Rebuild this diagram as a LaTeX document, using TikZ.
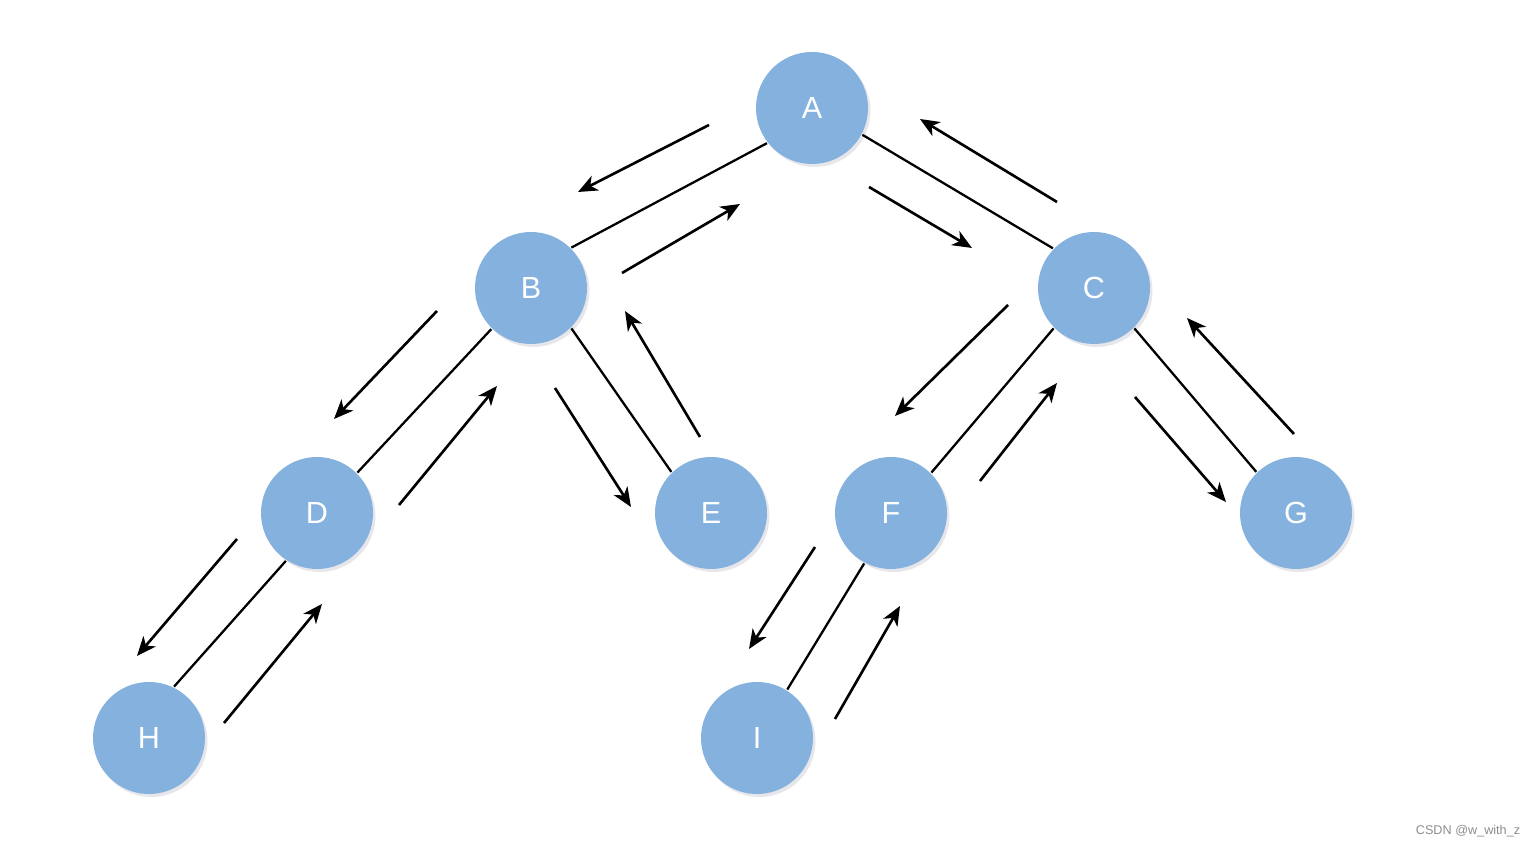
\documentclass[tikz,border=0pt]{standalone}
\usepackage{fontspec}
\setmainfont{Liberation Sans}
\usetikzlibrary{arrows.meta,shadows}
\definecolor{nodeblue}{HTML}{85B1DE}
\tikzset{
  treenode/.style={circle, fill=nodeblue, minimum size=1.12cm, inner sep=0pt,
    text=white, font=\fontsize{8.7}{10}\selectfont,
    drop shadow={shadow xshift=0.025cm, shadow yshift=-0.03cm, opacity=0.2, fill=blue!20!black!50}},
  walk/.style={-{Stealth[length=5.5pt,width=4.6pt,inset=1.6pt]}, line width=0.75pt}
}
\begin{document}
\begin{tikzpicture}[line width=0.65pt]
\useasboundingbox (0,0) rectangle (15.35,-8.47);

\node[treenode] (a) at (8.12,-1.08){A};
\node[treenode] (b) at (5.31,-2.88){B};
\node[treenode] (c) at (10.94,-2.88){C};
\node[treenode] (d) at (3.17,-5.13){D};
\node[treenode] (e) at (7.11,-5.13){E};
\node[treenode] (f) at (8.91,-5.13){F};
\node[treenode] (g) at (12.96,-5.13){G};
\node[treenode] (h) at (1.49,-7.38){H};
\node[treenode] (i) at (7.57,-7.38){I};

\draw (a.218) -- (b.45);
\draw (a.332) -- (c.136);
\draw (b.226) -- (d.45);
\draw (b.315) -- (e.134);
\draw (c.225) -- (f.45);
\draw (c.315) -- (g.134);
\draw (d.237) -- (h.64);
\draw (f.242) -- (i.58);

% walk down and back up
\coordinate (ab1) at (7.09,-1.25); \coordinate (ab2) at (5.78,-1.92);
\coordinate (ba1) at (6.22,-2.73); \coordinate (ba2) at (7.40,-2.04);
\coordinate (ac1) at (8.69,-1.87); \coordinate (ac2) at (9.72,-2.48);
\coordinate (ca1) at (10.57,-2.02); \coordinate (ca2) at (9.20,-1.19);
\coordinate (bd1) at (4.37,-3.11); \coordinate (bd2) at (3.34,-4.19);
\coordinate (db1) at (3.99,-5.05); \coordinate (db2) at (4.97,-3.86);
\coordinate (be1) at (5.55,-3.88); \coordinate (be2) at (6.31,-5.07);
\coordinate (eb1) at (7.00,-4.37); \coordinate (eb2) at (6.25,-3.11);
\coordinate (cf1) at (10.08,-3.05); \coordinate (cf2) at (8.95,-4.16);
\coordinate (fc1) at (9.80,-4.81); \coordinate (fc2) at (10.57,-3.83);
\coordinate (cg1) at (11.35,-3.97); \coordinate (cg2) at (12.26,-5.02);
\coordinate (gc1) at (12.94,-4.34); \coordinate (gc2) at (11.87,-3.18);
\coordinate (dh1) at (2.37,-5.39); \coordinate (dh2) at (1.37,-6.56);
\coordinate (hd1) at (2.24,-7.23); \coordinate (hd2) at (3.22,-6.04);
\coordinate (fi1) at (8.15,-5.47); \coordinate (fi2) at (7.49,-6.49);
\coordinate (if1) at (8.35,-7.19); \coordinate (if2) at (9.00,-6.06);

\foreach \p in {ab,ba,ac,ca,bd,db,be,eb,cf,fc,cg,gc,dh,hd,fi,if}
  \draw[walk] (\p1) -- (\p2);

\node[text=black!45, font=\fontsize{3.6}{4}\selectfont, anchor=east] (mark) at (15.33,-8.31){CSDN @w\_with\_z};
\end{tikzpicture}
\end{document}
